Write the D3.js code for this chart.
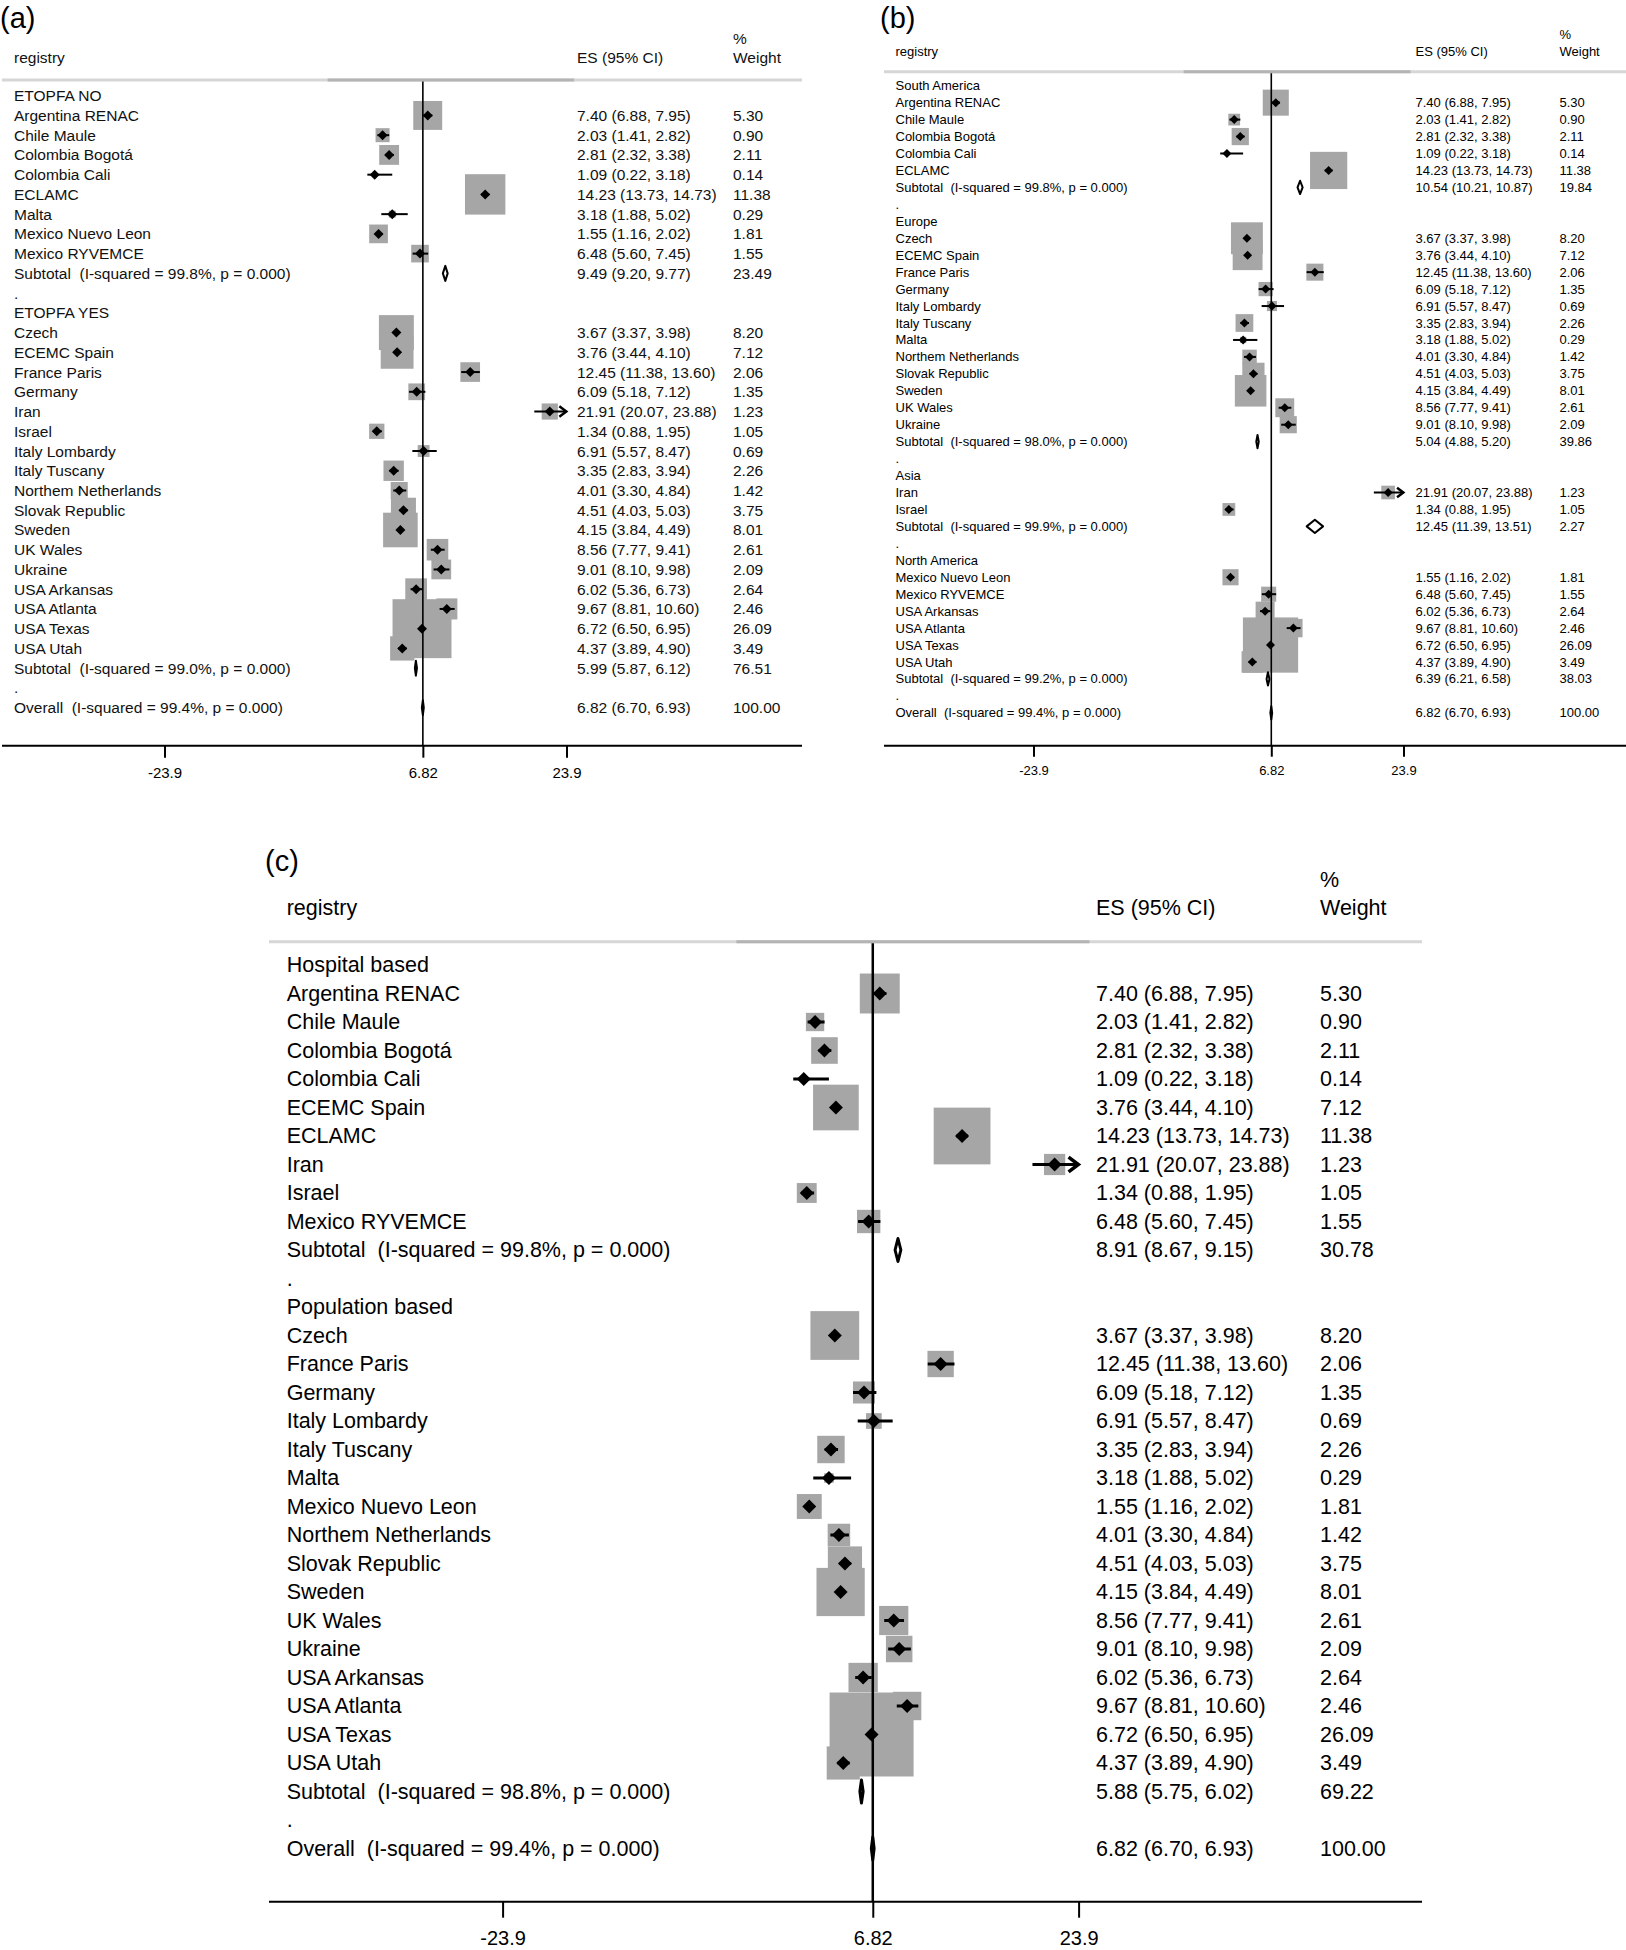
<!DOCTYPE html>
<html><head><meta charset="utf-8">
<script src="https://cdn.jsdelivr.net/npm/d3@7"></script>
<style>
html,body{margin:0;padding:0;background:#fff;}
svg{display:block;font-family:"Liberation Sans",Arial,Helvetica,sans-serif;}
text{white-space:pre;}
</style></head><body>
<svg id="chart" width="1626" height="1950"></svg>
<script>
// ---------------- DATA ----------------
const studyNames = ["Argentina RENAC","Chile Maule","Colombia Bogotá","Colombia Cali","ECLAMC","Malta",
  "Mexico Nuevo Leon","Mexico RYVEMCE","Czech","ECEMC Spain","France Paris","Germany","Iran","Israel",
  "Italy Lombardy","Italy Tuscany","Northem Netherlands","Slovak Republic","Sweden","UK Wales","Ukraine",
  "USA Arkansas","USA Atlanta","USA Texas","USA Utah"];
const studyES = [7.40,2.03,2.81,1.09,14.23,3.18,1.55,6.48,3.67,3.76,12.45,6.09,21.91,1.34,6.91,3.35,4.01,4.51,4.15,8.56,9.01,6.02,9.67,6.72,4.37];
const studyLo = [6.88,1.41,2.32,0.22,13.73,1.88,1.16,5.60,3.37,3.44,11.38,5.18,20.07,0.88,5.57,2.83,3.30,4.03,3.84,7.77,8.10,5.36,8.81,6.50,3.89];
const studyHi = [7.95,2.82,3.38,3.18,14.73,5.02,2.02,7.45,3.98,4.10,13.60,7.12,23.88,1.95,8.47,3.94,4.84,5.03,4.49,9.41,9.98,6.73,10.60,6.95,4.90];
const studyWeight = [5.30,0.90,2.11,0.14,11.38,0.29,1.81,1.55,8.20,7.12,2.06,1.35,1.23,1.05,0.69,2.26,1.42,3.75,8.01,2.61,2.09,2.64,2.46,26.09,3.49];

// panel (a): ETOPFA
const groupsA = ["ETOPFA NO","ETOPFA YES"];
const membersA = [
  ["Argentina RENAC","Chile Maule","Colombia Bogotá","Colombia Cali","ECLAMC","Malta","Mexico Nuevo Leon","Mexico RYVEMCE"],
  ["Czech","ECEMC Spain","France Paris","Germany","Iran","Israel","Italy Lombardy","Italy Tuscany","Northem Netherlands","Slovak Republic","Sweden","UK Wales","Ukraine","USA Arkansas","USA Atlanta","USA Texas","USA Utah"]];
const subES_A = [9.49,5.99], subLo_A = [9.20,5.87], subHi_A = [9.77,6.12], subW_A = [23.49,76.51], subI2_A = [99.8,99.0];

// panel (b): continent
const groupsB = ["South America","Europe","Asia","North America"];
const membersB = [
  ["Argentina RENAC","Chile Maule","Colombia Bogotá","Colombia Cali","ECLAMC"],
  ["Czech","ECEMC Spain","France Paris","Germany","Italy Lombardy","Italy Tuscany","Malta","Northem Netherlands","Slovak Republic","Sweden","UK Wales","Ukraine"],
  ["Iran","Israel"],
  ["Mexico Nuevo Leon","Mexico RYVEMCE","USA Arkansas","USA Atlanta","USA Texas","USA Utah"]];
const subES_B = [10.54,5.04,12.45,6.39], subLo_B = [10.21,4.88,11.39,6.21], subHi_B = [10.87,5.20,13.51,6.58],
      subW_B = [19.84,39.86,2.27,38.03], subI2_B = [99.8,98.0,99.9,99.2];

// panel (c): hospital / population based
const groupsC = ["Hospital based","Population based"];
const membersC = [
  ["Argentina RENAC","Chile Maule","Colombia Bogotá","Colombia Cali","ECEMC Spain","ECLAMC","Iran","Israel","Mexico RYVEMCE"],
  ["Czech","France Paris","Germany","Italy Lombardy","Italy Tuscany","Malta","Mexico Nuevo Leon","Northem Netherlands","Slovak Republic","Sweden","UK Wales","Ukraine","USA Arkansas","USA Atlanta","USA Texas","USA Utah"]];
const subES_C = [8.91,5.88], subLo_C = [8.67,5.75], subHi_C = [9.15,6.02], subW_C = [30.78,69.22], subI2_C = [99.8,98.8];

const overallES = 6.82, overallLo = 6.70, overallHi = 6.93, overallW = 100.00, overallI2 = 99.4;
const pValue = "0.000";
const tickValues = [-23.9, 6.82, 23.9];
const tickLabels = ["-23.9", "6.82", "23.9"];
const xDomain = [-23.9, 23.9];

// ---------------- LAYOUT (styles) ----------------
const layouts = {
  a: {tag:"(a)", plX:0, plY:18, labelX:14, esX:577, wX:733, left:2, right:802, sepY:80, axisY:745.7,
      row0:95.7, dy:19.74, xLo:164.5, xHi:566.5, font:15.5, tickFont:15, tickLen:12, tickPad:10,
      boxK:10.7, boxC:4.3, mk:5, dH:15, ciW:2, vW:1.6, subSW:2, pctY:38, hdrY:57, color:"#111"},
  b: {tag:"(b)", plX:880, plY:18, labelX:895.5, esX:1415.5, wX:1559.5, left:884, right:1626, sepY:71.7, axisY:745.7,
      row0:85.7, dy:16.95, xLo:1033.5, xHi:1403.5, font:13, tickFont:13, tickLen:11, tickPad:8.6,
      boxK:10.4, boxC:2.1, mk:4.5, dH:13.3, ciW:2, vW:1.6, subSW:2, pctY:34, hdrY:51.7, color:"#000"},
  c: {tag:"(c)", plX:265, plY:861, labelX:286.7, esX:1096, wX:1320, left:269, right:1422, sepY:941.7, axisY:1901.7,
      row0:965, dy:28.5, xLo:502.6, xHi:1078.6, font:21.5, tickFont:20, tickLen:16, tickPad:13,
      boxK:15.7, boxC:3.8, mk:7, dH:23, ciW:3, vW:2.5, subSW:3, pctY:880, hdrY:908, color:"#000"}
};

function buildRows(groups, members, sES, sLo, sHi, sW, sI2) {
  const rows = [];
  groups.forEach((g, i) => {
    rows.push({type:"group", label:g});
    members[i].forEach(n => {
      const k = studyNames.indexOf(n);
      rows.push({type:"study", label:n, es:studyES[k], lo:studyLo[k], hi:studyHi[k], w:studyWeight[k]});
    });
    rows.push({type:"sub", label:`Subtotal  (I-squared = ${sI2[i].toFixed(1)}%, p = ${pValue})`, es:sES[i], lo:sLo[i], hi:sHi[i], w:sW[i]});
    rows.push({type:"dot", label:"."});
  });
  rows.push({type:"sub", label:`Overall  (I-squared = ${overallI2.toFixed(1)}%, p = ${pValue})`, es:overallES, lo:overallLo, hi:overallHi, w:overallW});
  return rows;
}

const svg = d3.select("#chart");

function drawPanel(L, rows) {
  const g = svg.append("g");
  const x = d3.scaleLinear().domain(xDomain).range([L.xLo, L.xHi]);
  const y = d3.scaleLinear().domain([0, rows.length - 1]).range([L.row0, L.row0 + (rows.length - 1) * L.dy]);

  // panel tag
  g.append("text").attr("x", L.plX).attr("y", L.plY).attr("dominant-baseline", "central")
    .attr("font-size", 29).attr("fill", "#000").text(L.tag);

  // headers
  const hdr = g.append("g").attr("font-size", L.font).attr("fill", L.color).attr("dominant-baseline", "central");
  hdr.append("text").attr("x", L.labelX).attr("y", L.hdrY).text("registry");
  hdr.append("text").attr("x", L.esX).attr("y", L.hdrY).text("ES (95% CI)");
  hdr.append("text").attr("x", L.wX).attr("y", L.pctY).text("%");
  hdr.append("text").attr("x", L.wX).attr("y", L.hdrY).text("Weight");

  // separator lines
  g.append("line").attr("x1", L.left).attr("x2", L.right).attr("y1", L.sepY).attr("y2", L.sepY)
    .attr("stroke", "#d6d6d6").attr("stroke-width", 3);
  g.append("line").attr("x1", x(-4.5)).attr("x2", x(24.8)).attr("y1", L.sepY).attr("y2", L.sepY)
    .attr("stroke", "#b4b4b4").attr("stroke-width", 3);

  const studies = rows.map((r, i) => Object.assign({i}, r)).filter(r => r.type === "study");
  const subs = rows.map((r, i) => Object.assign({i}, r)).filter(r => r.type === "sub");

  // boxes
  g.append("g").selectAll("rect").data(studies).join("rect")
    .each(function(d) {
      const s = L.boxK * Math.sqrt(d.w) + L.boxC * Math.min(1, d.w);
      d3.select(this).attr("x", x(d.es) - s / 2).attr("y", y(d.i) - s / 2).attr("width", s).attr("height", s);
    })
    .attr("fill", "#a6a6a6");

  // vertical reference line at overall ES
  g.append("line").attr("x1", x(overallES)).attr("x2", x(overallES))
    .attr("y1", L.sepY + 1.5).attr("y2", L.axisY).attr("stroke", "#000").attr("stroke-width", L.vW);

  // CI lines
  g.append("g").selectAll("line").data(studies).join("line")
    .attr("x1", d => x(d.lo)).attr("x2", d => x(d.hi))
    .attr("y1", d => y(d.i)).attr("y2", d => y(d.i))
    .attr("stroke", "#000").attr("stroke-width", L.ciW);

  // arrows for CI reaching the axis limit
  const ah = L.mk * 1.4;
  g.append("g").selectAll("path").data(studies.filter(d => d.hi >= tickValues[2] - 0.05)).join("path")
    .attr("d", d => `M${x(d.hi) - ah},${y(d.i) - ah * 0.75}L${x(d.hi)},${y(d.i)}L${x(d.hi) - ah},${y(d.i) + ah * 0.75}`)
    .attr("fill", "none").attr("stroke", "#000").attr("stroke-width", L.ciW + 0.5);

  // point markers
  g.append("g").selectAll("path").data(studies).join("path")
    .attr("d", d => {
      const cx = x(d.es), cy = y(d.i), m = L.mk;
      return `M${cx - m},${cy}L${cx},${cy - m}L${cx + m},${cy}L${cx},${cy + m}Z`;
    })
    .attr("fill", "#000");

  // subtotal/overall diamonds
  g.append("g").selectAll("path").data(subs).join("path")
    .attr("d", d => {
      const cy = y(d.i), h = L.dH / 2;
      return `M${x(d.lo)},${cy}L${x(d.es)},${cy - h}L${x(d.hi)},${cy}L${x(d.es)},${cy + h}Z`;
    })
    .attr("fill", "#fff").attr("stroke", "#000").attr("stroke-width", L.subSW).attr("stroke-linejoin", "round");

  // row labels and numbers
  const tg = g.append("g").attr("font-size", L.font).attr("fill", L.color).attr("dominant-baseline", "central");
  tg.selectAll("text.lab").data(rows.map((r, i) => Object.assign({i}, r))).join("text").attr("class", "lab")
    .attr("x", L.labelX).attr("y", d => y(d.i)).text(d => d.label);
  const num = rows.map((r, i) => Object.assign({i}, r)).filter(r => r.type === "study" || r.type === "sub");
  tg.selectAll("text.es").data(num).join("text").attr("class", "es")
    .attr("x", L.esX).attr("y", d => y(d.i))
    .text(d => `${d.es.toFixed(2)} (${d.lo.toFixed(2)}, ${d.hi.toFixed(2)})`);
  tg.selectAll("text.w").data(num).join("text").attr("class", "w")
    .attr("x", L.wX).attr("y", d => y(d.i)).text(d => d.w.toFixed(2));

  // x axis
  g.append("line").attr("x1", L.left).attr("x2", L.right).attr("y1", L.axisY).attr("y2", L.axisY)
    .attr("stroke", "#000").attr("stroke-width", 2);
  const axis = d3.axisBottom(x).tickValues(tickValues).tickSize(L.tickLen).tickPadding(L.tickPad)
    .tickFormat((d, i) => tickLabels[i]);
  const ax = g.append("g").attr("transform", `translate(0,${L.axisY})`).call(axis);
  ax.select(".domain").remove();
  ax.selectAll(".tick line").attr("stroke", "#000").attr("stroke-width", 2);
  ax.selectAll(".tick text").attr("fill", "#000").attr("font-size", L.tickFont)
    .attr("font-family", '"Liberation Sans",Arial,sans-serif');
}

drawPanel(layouts.a, buildRows(groupsA, membersA, subES_A, subLo_A, subHi_A, subW_A, subI2_A));
drawPanel(layouts.b, buildRows(groupsB, membersB, subES_B, subLo_B, subHi_B, subW_B, subI2_B));
drawPanel(layouts.c, buildRows(groupsC, membersC, subES_C, subLo_C, subHi_C, subW_C, subI2_C));
</script>
</body></html>
